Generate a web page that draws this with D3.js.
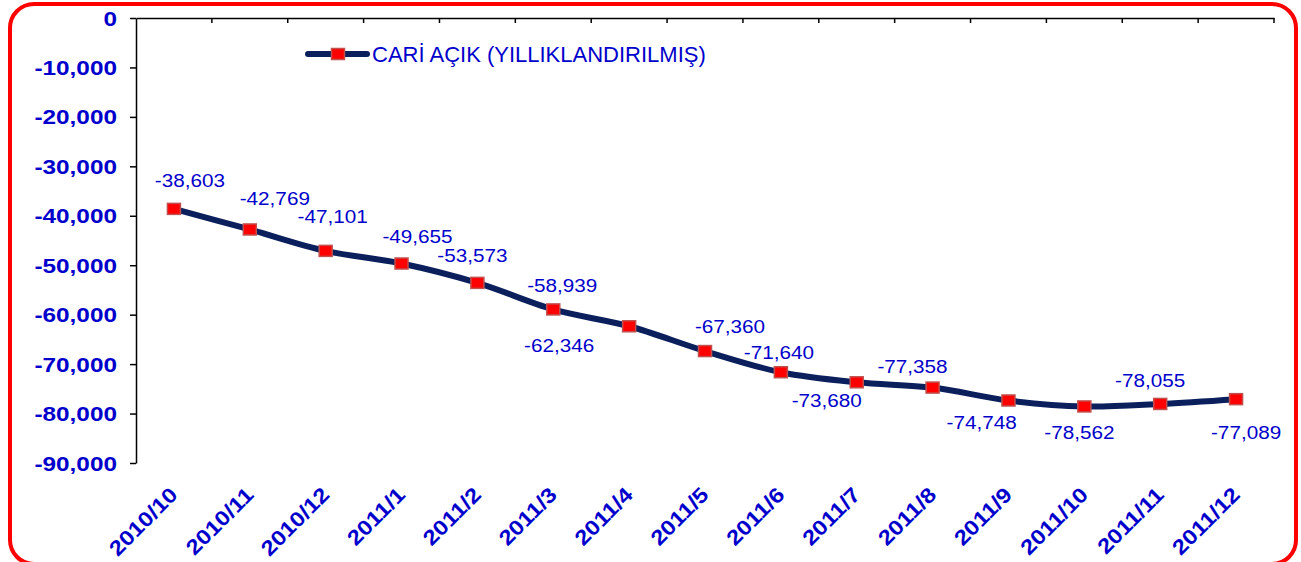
<!DOCTYPE html>
<html><head><meta charset="utf-8">
<script src="https://cdn.jsdelivr.net/npm/d3@7"></script>
<style>html,body{margin:0;padding:0;background:#fff;}svg{display:block;}</style>
</head><body>
<svg id="chart" width="1301" height="562"></svg>
<script>
const categories = ["2010/10","2010/11","2010/12","2011/1","2011/2","2011/3","2011/4","2011/5","2011/6","2011/7","2011/8","2011/9","2011/10","2011/11","2011/12"];
const values = [-38603,-42769,-47101,-49655,-53573,-58939,-62346,-67360,-71640,-73680,-74748,-77358,-78562,-78055,-77089];
const yTicks = [0,-10000,-20000,-30000,-40000,-50000,-60000,-70000,-80000,-90000];
const seriesName = "CARİ AÇIK (YILLIKLANDIRILMIŞ)";
// label placement offsets (layout only): [dx, dy] from point to label centre/baseline
const labelOffsets = [[16,-22],[25,-24],[7,-28],[16,-21],[-5,-21],[9,-17],[-70,26],[25,-18],[-2,-13],[-30,25],[49,41],[-96,-27],[-5,33],[-10,-17],[10,40]];

const blue = "#0000cc", navy = "#0b1f5c";
const svg = d3.select("#chart");
const m = {left:136, right:1274, top:18, bottom:463};

// border
svg.append("rect").attr("x",10).attr("y",4).attr("width",1286).attr("height",560)
  .attr("rx",24).attr("fill","none").attr("stroke","#ff0000").attr("stroke-width",4);

const x = d3.scaleBand().domain(categories).range([m.left,m.right]).padding(0);
const y = d3.scaleLinear().domain([0,-90000]).range([m.top,m.bottom]);

const locale = d3.formatLocale({decimal:".", thousands:",", grouping:[3], currency:["",""], minus:"-"});
const fmt = locale.format(",");

// y axis
const yAxis = svg.append("g").attr("transform",`translate(${m.left},0)`)
  .call(d3.axisLeft(y).tickValues(yTicks).tickSize(6).tickSizeOuter(0).tickFormat(()=>""));
yAxis.select(".domain").attr("stroke","#000").attr("stroke-width",1.5);
yAxis.selectAll(".tick line").attr("stroke","#000").attr("stroke-width",1.5);
svg.append("g").selectAll("text").data(yTicks).join("text")
  .attr("transform",d=>`translate(117,${y(d)}) scale(1.16,1)`)
  .attr("dy","0.36em").attr("text-anchor","end")
  .attr("font-family","Liberation Sans, Arial, sans-serif").attr("font-weight","bold")
  .attr("font-size",21).attr("fill",blue).text(d=>fmt(d));

// x axis at top (value 0)
const xAxis = svg.append("g").attr("transform",`translate(0,${y(0)})`)
  .call(d3.axisBottom(x).tickSize(0).tickSizeOuter(0).tickFormat(()=>""));
xAxis.select(".domain").attr("stroke","#000").attr("stroke-width",1.5);
xAxis.selectAll(".tick").remove();
const bounds = categories.map(c=>x(c)).concat([m.right]).slice(1);
svg.append("g").selectAll("line").data(bounds).join("line")
  .attr("x1",d=>d).attr("x2",d=>d).attr("y1",y(0)).attr("y2",y(0)+5)
  .attr("stroke","#000").attr("stroke-width",1.5);

// x labels rotated
svg.append("g").selectAll("text").data(categories).join("text")
  .attr("transform",d=>`translate(${x(d)+x.bandwidth()/2+5},496) rotate(-45) scale(1.14,1)`)
  .attr("text-anchor","end")
  .attr("font-family","Liberation Sans, Arial, sans-serif").attr("font-weight","bold")
  .attr("font-size",21).attr("fill",blue).text(d=>d);

// line
const cx = c=>x(c)+x.bandwidth()/2;
const pts = categories.map((c,i)=>[cx(c), y(values[i])]);
svg.append("path").datum(pts)
  .attr("d",d3.line().curve(d3.curveCardinal.tension(0)))
  .attr("fill","none").attr("stroke",navy).attr("stroke-width",6)
  .attr("stroke-linejoin","round").attr("stroke-linecap","round");

// markers
svg.append("g").selectAll("rect").data(pts).join("rect")
  .attr("x",d=>d[0]-6.5).attr("y",d=>d[1]-5.5).attr("width",13).attr("height",11)
  .attr("fill","#ff0000").attr("stroke","#c0504d").attr("stroke-width",1.5);

// data labels
svg.append("g").selectAll("text").data(values).join("text")
  .attr("transform",(d,i)=>`translate(${pts[i][0]+labelOffsets[i][0]},${pts[i][1]+labelOffsets[i][1]}) scale(1.09,1)`)
  .attr("text-anchor","middle")
  .attr("font-family","Liberation Sans, Arial, sans-serif")
  .attr("font-size",19).attr("fill",blue).text(d=>fmt(d));

// legend
const lg = svg.append("g");
lg.append("line").attr("x1",308).attr("x2",367).attr("y1",54).attr("y2",54)
  .attr("stroke",navy).attr("stroke-width",6).attr("stroke-linecap","round");
lg.append("rect").attr("x",338-6.5).attr("y",54-5.5).attr("width",13).attr("height",11)
  .attr("fill","#ff0000").attr("stroke","#c0504d").attr("stroke-width",1.5);
lg.append("text").attr("x",372).attr("y",62)
  .attr("font-family","Liberation Sans, Arial, sans-serif")
  .attr("font-size",22).attr("fill",blue).text(seriesName);
</script>
</body></html>
